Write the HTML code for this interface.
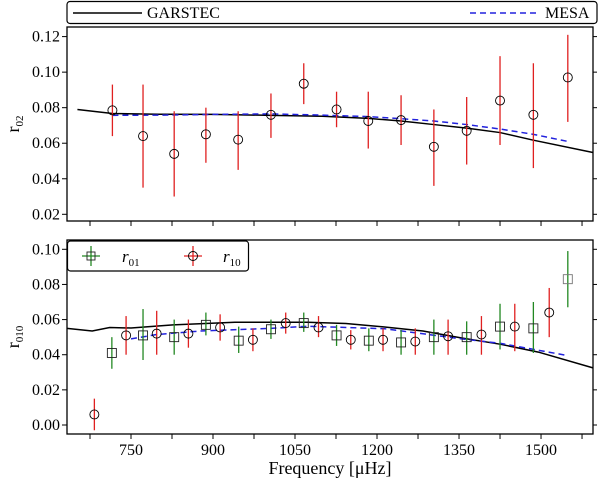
<!DOCTYPE html>
<html><head><meta charset="utf-8">
<style>
body{margin:0;background:#fff;}
svg{display:block;font-family:"Liberation Serif",serif;}
</style></head>
<body>
<svg id="chart" width="600" height="479" xmlns="http://www.w3.org/2000/svg"></svg>
<script>
// ---- data ----
const r02Freq = [716,772,829,887,946,1006,1066,1126,1184,1244,1304,1364,1425,1486,1549];
const r02Val  = [0.0785,0.064,0.054,0.065,0.062,0.076,0.0935,0.079,0.0725,0.073,0.058,0.067,0.084,0.076,0.097];
const r02Lo   = [0.064,0.035,0.030,0.049,0.045,0.063,0.082,0.069,0.057,0.059,0.036,0.048,0.059,0.046,0.072];
const r02Hi   = [0.093,0.093,0.078,0.080,0.078,0.088,0.105,0.089,0.089,0.087,0.079,0.086,0.109,0.105,0.121];
const garTopFreq = [652,716,800,900,1006,1100,1184,1244,1304,1364,1425,1486,1595];
const garTopVal  = [0.079,0.0767,0.0763,0.0762,0.0757,0.0752,0.074,0.0725,0.0705,0.0685,0.066,0.0617,0.0548];
const mesaTopFreq = [716,800,900,1006,1100,1184,1244,1304,1364,1425,1486,1549];
const mesaTopVal  = [0.0757,0.0758,0.0762,0.0765,0.0758,0.075,0.0738,0.0725,0.0705,0.068,0.065,0.061];

const r10Freq = [683,741,797,855,913,973,1033,1093,1152,1211,1270,1330,1391,1452,1515];
const r10Val  = [0.006,0.051,0.052,0.052,0.0555,0.0485,0.058,0.0555,0.0485,0.0485,0.0475,0.0505,0.0515,0.056,0.064];
const r10Lo   = [-0.003,0.040,0.040,0.044,0.048,0.042,0.052,0.050,0.043,0.042,0.040,0.040,0.040,0.042,0.050];
const r10Hi   = [0.015,0.062,0.065,0.060,0.063,0.055,0.064,0.062,0.054,0.055,0.055,0.060,0.062,0.069,0.078];
const r01Freq = [715,772,829,887,947,1006,1066,1126,1185,1244,1304,1364,1425,1486,1549];
const r01Val  = [0.041,0.051,0.050,0.057,0.048,0.0545,0.058,0.051,0.048,0.047,0.050,0.050,0.056,0.055,0.083];
const r01Lo   = [0.032,0.037,0.040,0.051,0.041,0.049,0.053,0.045,0.042,0.040,0.040,0.040,0.043,0.041,0.067];
const r01Hi   = [0.050,0.066,0.060,0.064,0.056,0.060,0.064,0.057,0.055,0.054,0.060,0.059,0.069,0.070,0.099];
const garBotFreq = [633,679,711,750,827,940,1073,1143,1214,1284,1355,1425,1495,1595];
const garBotVal  = [0.055,0.0535,0.0555,0.0552,0.057,0.0585,0.0585,0.0578,0.0558,0.0535,0.0495,0.046,0.0415,0.0325];
const mesaBotFreq = [750,797,877,1006,1073,1214,1355,1425,1549];
const mesaBotVal  = [0.049,0.0515,0.0535,0.055,0.0562,0.0548,0.049,0.0465,0.0395];

const xTicks = [675,750,825,900,975,1050,1125,1200,1275,1350,1425,1500,1575];
const xLabels = [750,900,1050,1200,1350,1500];
const yTopTicks = [0.02,0.04,0.06,0.08,0.10,0.12];
const yBotTicks = [0.00,0.02,0.04,0.06,0.08,0.10];

// ---- geometry ----
const L=67,R=593, TT=27, TB=221, BT=240, BB=434;
const x = f => 131 + (f-750)*0.5467;
const yT = v => 214.3 - (v-0.02)*1777;
const yB = v => 425 - v*1757;
const svg=document.getElementById('chart');
const NS='http://www.w3.org/2000/svg';
function el(tag,attrs,parent){const e=document.createElementNS(NS,tag);for(const k in attrs)e.setAttribute(k,attrs[k]);(parent||svg).appendChild(e);return e;}
function line(fs,vs,yf,stroke,dash,name){
  const p=el('polyline',{points:fs.map((f,i)=>x(f)+','+yf(vs[i])).join(' '),fill:'none',stroke:stroke,'stroke-width':1.5,'stroke-dasharray':dash||'none'});
  
  
}
function errs(fs,vs,lo,hi,yf,color,shape,name){
  fs.forEach((f,i)=>{
    const g=el('g',{});
    
    
    el('line',{x1:x(f),x2:x(f),y1:yf(lo[i]),y2:yf(hi[i]),stroke:color,'stroke-width':1.3},g);
    if(shape==='c') el('circle',{cx:x(f),cy:yf(vs[i]),r:4.5,fill:'none',stroke:'#000','stroke-width':0.9},g);
    else el('rect',{x:x(f)-4.5,y:yf(vs[i])-4.5,width:9,height:9,fill:'none',stroke:(i===fs.length-1?'#777':'#222'),'stroke-width':0.9},g);
  });
}
function axes(top,bot,yf,ticks,name,ylab,sub){
  const g=el('g',{});
  
  
  el('rect',{x:L,y:top,width:R-L,height:bot-top,fill:'none',stroke:'#000','stroke-width':1.3},g);
  xTicks.forEach(t=>el('line',{x1:x(t),x2:x(t),y1:bot,y2:bot+5,stroke:'#000','stroke-width':1},g));
  ticks.forEach(t=>{
    el('line',{x1:L-5,x2:L,y1:yf(t),y2:yf(t),stroke:'#000','stroke-width':1},g);
    el('line',{x1:R,x2:R+4,y1:yf(t),y2:yf(t),stroke:'#000','stroke-width':1},g);
    const tx=el('text',{x:L-7,y:yf(t)+5,'text-anchor':'end','font-size':16},g);
    tx.textContent=t.toFixed(2);
  });
  const yl=el('text',{x:0,y:0,'font-size':18,transform:'translate(19,'+((top+bot)/2)+') rotate(-90)','text-anchor':'middle'},g);
  yl.textContent=ylab;
  const s=el('tspan',{'font-size':11,dy:4},yl);s.textContent=sub;
}
axes(TT,TB,yT,yTopTicks,'top-axes','r','02');
axes(BT,BB,yB,yBotTicks,'bottom-axes','r','010');
xLabels.forEach(t=>{const tx=el('text',{x:x(t),y:455,'text-anchor':'middle','font-size':16});tx.textContent=t;
  });
const xt=el('text',{x:330,y:474,'text-anchor':'middle','font-size':18});
xt.textContent='Frequency [\u03BCHz]';



// top panel
line(garTopFreq,garTopVal,yT,'#000',null,'garstec-r02-line');
line(mesaTopFreq,mesaTopVal,yT,'#2222dd','6,4','mesa-r02-line');
errs(r02Freq,r02Val,r02Lo,r02Hi,yT,'#e02020','c','r02-point');
// bottom panel
line(garBotFreq,garBotVal,yB,'#000',null,'garstec-r010-line');
line(mesaBotFreq,mesaBotVal,yB,'#2222dd','6,4','mesa-r010-line');
errs(r01Freq,r01Val,r01Lo,r01Hi,yB,'#228822','s','r01-point');
errs(r10Freq,r10Val,r10Lo,r10Hi,yB,'#e02020','c','r10-point');
</script>
<svg style="position:absolute;left:0;top:0" width="600" height="479" xmlns="http://www.w3.org/2000/svg" font-family="Liberation Serif, serif">
  <g>
    <rect x="67" y="1.5" width="530" height="22" rx="3" fill="#fff" stroke="#000" stroke-width="1.2"/>
    <line x1="73" y1="13" x2="142" y2="13" stroke="#000" stroke-width="1.5"/>
    <text x="147" y="18" font-size="16">GARSTEC</text>
    <line x1="470" y1="13" x2="536" y2="13" stroke="#2222dd" stroke-width="1.5" stroke-dasharray="6,4"/>
    <text x="545" y="18" font-size="16">MESA</text>
  </g>
  <g>
    <rect x="67.5" y="241" width="181" height="30" rx="3" fill="#fff" stroke="#000" stroke-width="1.2"/>
    <line x1="82" y1="256" x2="100" y2="256" stroke="#228822" stroke-width="1.3"/>
    <line x1="91" y1="246" x2="91" y2="266" stroke="#228822" stroke-width="1.3"/>
    <rect x="87" y="252" width="8" height="8" fill="none" stroke="#222" stroke-width="0.9"/>
    <text x="122" y="262" font-size="17" font-style="italic">r<tspan font-size="11" font-style="normal" dy="4">01</tspan></text>
    <line x1="184" y1="256" x2="202" y2="256" stroke="#e02020" stroke-width="1.3"/>
    <line x1="193" y1="246" x2="193" y2="266" stroke="#e02020" stroke-width="1.3"/>
    <circle cx="193" cy="256" r="4.5" fill="none" stroke="#000" stroke-width="0.9"/>
    <text x="223" y="262" font-size="17" font-style="italic">r<tspan font-size="11" font-style="normal" dy="4">10</tspan></text>
  </g>
</svg>
</body></html>
